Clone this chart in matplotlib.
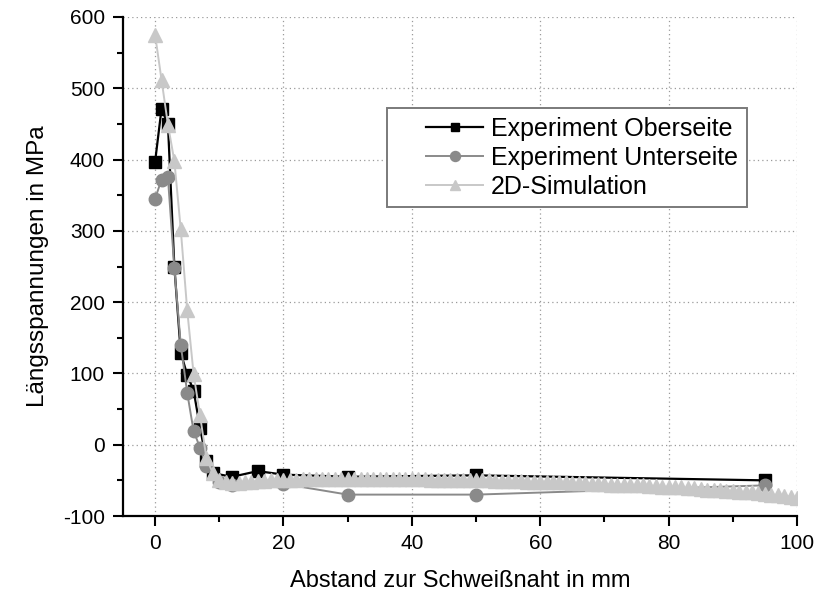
import matplotlib
matplotlib.use('Agg')
import matplotlib.pyplot as plt
from matplotlib.lines import Line2D
from matplotlib.legend_handler import HandlerLine2D
from matplotlib.ticker import MultipleLocator

plt.rcParams['font.family'] = ['Liberation Sans', 'DejaVu Sans']
plt.rcParams['axes.unicode_minus'] = False

# Experiment Oberseite (top side)
ober_x = [0, 1, 2, 3, 4, 5, 6, 7, 8, 9, 12, 16, 20, 30, 50, 95]
ober_y = [397, 471, 450, 250, 129, 98, 76, 24, -23, -40, -45, -37, -42, -45, -43, -50]

# Experiment Unterseite (bottom side)
unter_x = [0, 1, 2, 3, 4, 5, 6, 7, 8, 10, 12, 20, 30, 50, 95]
unter_y = [345, 372, 375, 248, 140, 73, 19, -4, -30, -52, -56, -55, -70, -70, -57]

# 2D-Simulation, one value per mm from 0 to 100
sim_x = list(range(0, 101))
sim_y = [575, 512, 449, 398, 302, 189, 99, 41, -19, -40,
         -50, -53, -54, -54, -53, -52, -51, -51, -50, -50,
         -49, -49, -49, -48, -48, -48, -48, -48, -48, -48,
         -48, -48, -48, -48, -48, -48, -48, -48, -48, -48,
         -48, -48, -48, -49, -49, -49, -49, -49, -50, -50,
         -50, -50, -50, -51, -51, -51, -51, -51, -52, -52,
         -52, -52, -53, -53, -53, -54, -54, -54, -55, -55,
         -55, -56, -56, -56, -57, -57, -57, -58, -58, -59,
         -59, -60, -60, -61, -61, -62, -63, -63, -64, -65,
         -65, -66, -67, -67, -68, -69, -70, -71, -72, -73,
         -75]

labels = ['Experiment Oberseite', 'Experiment Unterseite', '2D-Simulation']

fig = plt.figure(figsize=(8.17, 5.94), dpi=100)
ax = fig.add_axes([123 / 817, 78 / 594, 674 / 817, 499 / 594])

ax.plot(ober_x, ober_y, color='black', linewidth=1.6, marker='s', markersize=8,
        label=labels[0], zorder=3)
ax.plot(unter_x, unter_y, color='#8a8a8a', linewidth=1.4, marker='o', markersize=9,
        label=labels[1], zorder=4)
ax.plot(sim_x, sim_y, color='#c8c8c8', linewidth=1.4, marker='^', markersize=9.5,
        label=labels[2], zorder=5)

ax.set_xlim(-5, 100)
ax.set_ylim(-100, 600)
ax.xaxis.set_major_locator(MultipleLocator(20))
ax.xaxis.set_minor_locator(MultipleLocator(10))
ax.yaxis.set_major_locator(MultipleLocator(100))
ax.yaxis.set_minor_locator(MultipleLocator(50))

ax.grid(True, which='major', linestyle=(0, (1, 2.5)), color='#9a9a9a', linewidth=0.9)
ax.set_axisbelow(True)

for side in ['top', 'right']:
    ax.spines[side].set_visible(False)
for side in ['left', 'bottom']:
    ax.spines[side].set_linewidth(1.6)

ax.tick_params(which='major', direction='out', length=7, width=1.5, labelsize=15, pad=6)
ax.tick_params(which='minor', direction='out', length=4, width=1.5)

ax.set_xlabel('Abstand zur Schweißnaht in mm', fontsize=17, labelpad=12)
ax.set_ylabel('Längsspannungen in MPa', fontsize=17.5, labelpad=10)

leg = ax.legend(loc='upper left', bbox_to_anchor=(0.392, 0.818), fontsize=18,
                numpoints=1, markerscale=0.8, handlelength=3.5, handletextpad=0.3,
                labelspacing=0.2, borderpad=0.35, borderaxespad=0,
                fancybox=False, framealpha=1, edgecolor='#7a7a7a',
                handler_map={Line2D: HandlerLine2D(xpad=1.2)})
leg.get_frame().set_linewidth(1.4)

fig.savefig('out.png', dpi=100)
